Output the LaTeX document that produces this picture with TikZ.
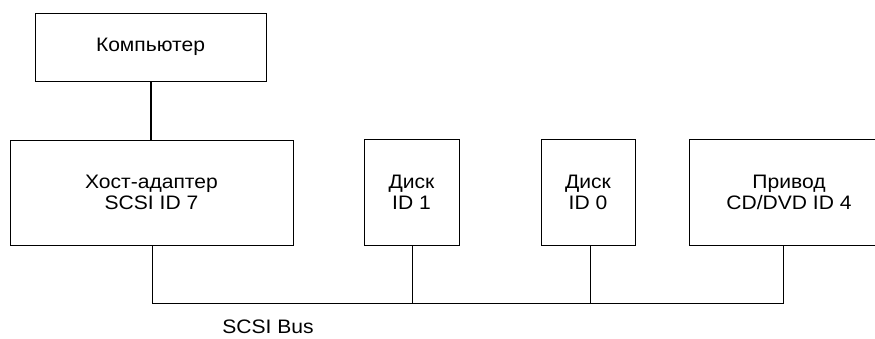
\documentclass[tikz,border=0pt]{standalone}
\usepackage{fontspec}
\setmainfont{Liberation Sans}[FakeStretch=1.08]
\begin{document}
\begin{tikzpicture}[x=1pt,y=-1pt,
  box/.style={draw,line width=1pt,inner sep=0pt,align=center,font=\fontsize{19.5}{21}\selectfont},
  wire/.style={line width=1pt},
  thickwire/.style={line width=2pt}]
\useasboundingbox (0,0) rectangle (875,338);
\begin{scope}
\clip (0,0) rectangle (875,338);
\node[box,minimum width=231pt,minimum height=68pt] (comp) at (150.5,47) {Компьютер};
\node[box,minimum width=283pt,minimum height=105pt] (host) at (151.5,192.5) {Хост-адаптер\\SCSI ID 7};
\node[box,minimum width=95pt,minimum height=106pt] (d1) at (411.5,192) {Диск\\ID 1};
\node[box,minimum width=94pt,minimum height=106pt] (d0) at (588,192) {Диск\\ID 0};
\node[box,minimum width=200pt,minimum height=106pt] (drv) at (789,192) {Привод\\CD/DVD ID 4};
\end{scope}
\coordinate (b1) at (152,303);
\coordinate (b2) at (412,303);
\coordinate (b3) at (590,303);
\coordinate (b4) at (783,303);
\draw[thickwire] (comp.south -| 151,0) -- (host.north -| 151,0);
\draw[wire] (host.south -| b1) -- (b1) -- (b4) -- (drv.south -| b4);
\draw[wire] (d1.south -| b2) -- (b2);
\draw[wire] (d0.south -| b3) -- (b3);
\node[font=\fontsize{19.5}{21}\selectfont,inner sep=0pt] (bus) at (268,327) {SCSI Bus};
\end{tikzpicture}
\end{document}
